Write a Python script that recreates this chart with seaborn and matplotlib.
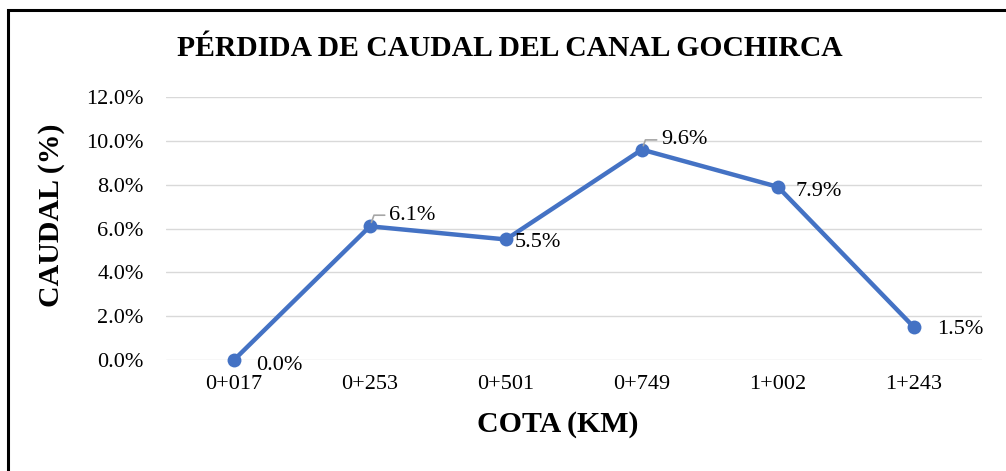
import matplotlib
matplotlib.use("Agg")
import matplotlib.pyplot as plt
import matplotlib.patches as patches
import seaborn as sns

# data
cotas = ["0+017", "0+253", "0+501", "0+749", "1+002", "1+243"]
perdida = [0.0, 6.1, 5.5, 9.6, 7.9, 1.5]
y_ticks = [0, 2, 4, 6, 8, 10, 12]

sns.set_theme(style="white")
plt.rcParams["font.family"] = ["Liberation Serif", "DejaVu Serif"]
plt.rcParams["text.color"] = "black"
plt.rcParams["axes.labelcolor"] = "black"
plt.rcParams["xtick.color"] = "black"
plt.rcParams["ytick.color"] = "black"

line_color = "#4472C4"

fig = plt.figure(figsize=(10.06, 4.71), dpi=100)
ax = fig.add_axes([0.165, 0.2357, 0.811, 0.5583])

sns.lineplot(x=list(range(len(cotas))), y=perdida, ax=ax, color=line_color,
             linewidth=3.2, marker="o", markersize=10, markeredgewidth=0,
             zorder=3, clip_on=False)

ax.set_xlim(-0.5, len(cotas) - 0.5)
ax.set_ylim(0, 12)
ax.set_xticks(range(len(cotas)))
ax.set_xticklabels(cotas)
ax.set_yticks(y_ticks)
ax.set_yticklabels([f"{v:.1f}%" for v in y_ticks])
ax.tick_params(axis="both", length=0, labelsize=16, colors="black")
ax.tick_params(axis="y", pad=16)
ax.tick_params(axis="x", pad=11)
ax.grid(axis="y", color="#d9d9d9", linewidth=1)
ax.grid(axis="x", visible=False)
for s in ax.spines.values():
    s.set_visible(False)

# data labels (offsets in points from each marker)
offsets = [(16, -4), (14, 8), (6, -2), (14, 7), (13, -3), (17, -2)]
leader = [False, True, False, True, False, False]
for i, (v, off, ld) in enumerate(zip(perdida, offsets, leader)):
    if ld:
        ax.annotate(f"{v:.1f}%", xy=(i, v), xytext=off, textcoords="offset points",
                    fontsize=16, va="center", ha="left",
                    arrowprops=dict(arrowstyle="-", color="#a6a6a6", lw=1.2,
                                    connectionstyle="angle,angleA=0,angleB=70,rad=0",
                                    shrinkA=1, shrinkB=3))
    else:
        ax.annotate(f"{v:.1f}%", xy=(i, v), xytext=off, textcoords="offset points",
                    fontsize=16, va="center", ha="left")

ax.set_xlabel("COTA (KM)", fontsize=21.5, fontweight="bold")
ax.xaxis.set_label_coords(0.48, -0.195)
ax.set_ylabel("CAUDAL (%)", fontsize=21.5, fontweight="bold")
ax.yaxis.set_label_coords(-0.124, 0.549)

fig.text(0.507, 0.898, "PÉRDIDA DE CAUDAL DEL CANAL GOCHIRCA", ha="center", va="center",
         fontsize=21.3, fontweight="bold")

# outer border (only left and top visible in the reference)
fig.patches.append(patches.Rectangle((8 / 1006, -0.1), 1.2, 1 - 10 / 471 + 0.1,
                                     transform=fig.transFigure, fill=False,
                                     edgecolor="black", linewidth=2.2))

fig.savefig("out.png", dpi=100)
